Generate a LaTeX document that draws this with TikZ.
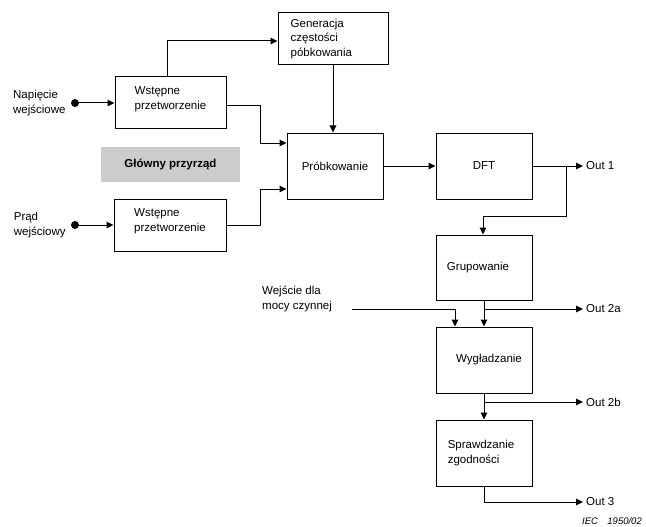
\documentclass[tikz,border=0pt]{standalone}
\usepackage{fontspec}
\setmainfont{Liberation Sans}
\usetikzlibrary{positioning,arrows.meta}
\tikzset{
  blok/.style={draw, line width=1pt, minimum width=96pt, minimum height=66pt, inner sep=0pt},
  opis/.style={align=left, inner sep=0pt, font=\fontsize{11.5}{14.5}\selectfont},
  linia/.style={line width=1pt},
  strz/.style={linia, -{Triangle[length=7pt,width=6.5pt]}},
  kropka/.style={circle, fill, inner sep=0pt, minimum size=8pt},
}
\begin{document}
\begin{tikzpicture}[x=1pt,y=-1pt]
\useasboundingbox (0,0) rectangle (646,527);
% bloki wstepnego przetworzenia
\node[blok, minimum width=111pt, minimum height=52pt] (wstU) at (170.5,103) {};
\node[opis] (wstUtxt) at ([yshift=4pt]wstU.center) {Wstępne\\przetworzenie};
\node[blok, minimum width=112pt, minimum height=52pt] (wstD) at (170,225) {};
\node[opis] (wstDtxt) at ([yshift=4pt]wstD.center) {Wstępne\\przetworzenie};
\node[fill=black!20, minimum width=139pt, minimum height=35pt, inner sep=0pt,
  font=\fontsize{11.5}{14.5}\selectfont\bfseries] (glowny) at (170.5,164.5) {Główny przyrząd};
% wejscia
\node[kropka] (napDot) at (75,103) {};
\node[opis, left=5pt of napDot] (napTxt) {Napięcie\\wejściowe};
\node[kropka] (pradDot) at (75,225) {};
\node[opis, left=5pt of pradDot] (pradTxt) {Prąd\\wejściowy};
% glowny tor
\node[blok, minimum width=110pt, minimum height=52pt] (gen) at (333,39) {};
\node[opis, anchor=west] (genTxt) at ([xshift=13pt]gen.west) {Generacja\\częstości\\póbkowania};
\node[blok] (probk) at (335,166) {};
\node[opis] (probkTxt) at (probk.center) {Próbkowanie};
\node[blok] (dft) at (484,166) {};
\node[opis] (dftTxt) at (dft.center) {DFT};
\node[blok, minimum height=65pt] (grup) at (484,267.5) {};
\node[opis] (grupTxt) at ([xshift=-6pt]grup.center) {Grupowanie};
\node[blok] (wygl) at (484,360) {};
\node[opis] (wyglTxt) at ([xshift=5pt]wygl.center) {Wygładzanie};
\node[blok] (spraw) at (484,453) {};
\node[opis] (sprawTxt) at ([xshift=-3pt]spraw.center) {Sprawdzanie\\zgodności};
% polaczenia
\draw[strz] (napDot) -- (wstU.west);
\draw[strz] (pradDot) -- (wstD.west |- pradDot);
\draw[strz] ([xshift=-3.5pt]wstU.north) |- ([yshift=-2pt]gen.west);
\draw[strz] (gen.south) -- (gen.south |- probk.north);
\draw[strz] ([yshift=-3pt]wstU.east) -- ++(34,0) |- ([yshift=23pt]probk.west);
\draw[strz] (wstD.east) -- ++(34,0) |- ([yshift=-23pt]probk.west);
\draw[strz] (probk) -- (dft);
% wyjscia
\coordinate (out1) at (583,166);
\coordinate (rozg1) at (566,166);
\draw[strz] (dft.east) -- (out1);
\node[opis, right=3pt of out1] (out1Txt) {Out 1};
\draw[strz] (rozg1) -- ++(0,50) -| ([xshift=-1pt]grup.north);
\draw[strz] (grup) -- (wygl);
\coordinate (rozg2a) at (484,309);
\coordinate (out2a) at (583,309);
\draw[strz] (rozg2a) -- (out2a);
\node[opis, right=3pt of out2a] (out2aTxt) {Out 2a};
\coordinate (wejP) at (352,309);
\draw[strz] (wejP) -| ([xshift=-29pt]wygl.north);
\node[opis, anchor=west] (wejTxt) at (262,299) {Wejście dla\\mocy czynnej};
\draw[strz] (wygl) -- (spraw);
\coordinate (rozg2b) at (484,402);
\coordinate (out2b) at (583,402);
\draw[strz] (rozg2b) -- (out2b);
\node[opis, right=3pt of out2b] (out2bTxt) {Out 2b};
\coordinate (out3) at (583,502);
\draw[strz] (spraw.south) |- (out3);
\node[opis, right=3pt of out3] (out3Txt) {Out 3};
\node[font=\fontsize{9.5}{11}\selectfont\itshape, anchor=south east, inner sep=0pt] (iec) at (642,525) {IEC\quad 1950/02};
\end{tikzpicture}
\end{document}
